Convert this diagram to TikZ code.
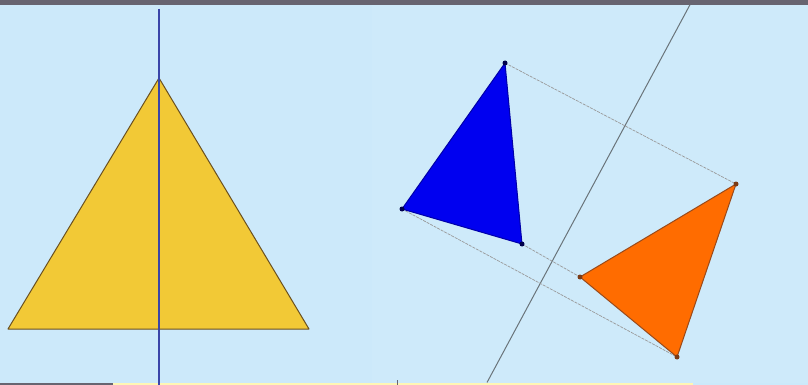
\documentclass[tikz,border=0pt]{standalone}
\begin{document}
\begin{tikzpicture}[x=1pt,y=-1pt,
  tri/.style={line width=1pt, line join=round},
  proj/.style={draw=gray!80, line width=0.7pt, dash pattern=on 3pt off 1pt},
  vdot/.style={circle, inner sep=0pt, minimum size=5pt}]
\definecolor{bg}{HTML}{CCE9FA}
\definecolor{band}{HTML}{676470}
\definecolor{yel}{HTML}{F2C936}
\definecolor{yelline}{HTML}{6A5020}
\definecolor{axisblue}{HTML}{3A45A8}
\definecolor{bluetri}{HTML}{0000F0}
\definecolor{orangetri}{HTML}{FF6C00}
\definecolor{orangeline}{HTML}{9A4A1A}
\definecolor{mirror}{HTML}{6A747A}
\definecolor{strip}{HTML}{FFF6B4}
\useasboundingbox (0,0) rectangle (808,385);
\fill[bg] (0,0) rectangle (808,385);
\fill[bg!96!white] (372,5) rectangle (808,383);
\fill[band] (0,0) rectangle (808,4.7);
\fill[band] (0,382.5) rectangle (113,385);
\fill[strip] (113,382.5) rectangle (693,385);
\draw[band, line width=0.6pt] (397,380) -- (397,385);
% left: yellow triangle with blue axis
\coordinate (ya) at (159,78);
\coordinate (yl) at (8,329);
\coordinate (yr) at (309,329);
\filldraw[tri, fill=yel, draw=yelline] (ya) -- (yl) -- (yr) -- cycle;
\coordinate (axt) at (159,9);
\coordinate (axb) at (159,385);
\draw[axisblue, line width=1.5pt] (axt) -- (axb);
% right: mirror line
\coordinate (mt) at (690,4.7);
\coordinate (mb) at (487,382.5);
\draw[mirror, line width=1pt] (mt) -- (mb);
% triangles
\coordinate (b1) at (505,63);
\coordinate (b2) at (402,209);
\coordinate (b3) at (522,244);
\coordinate (o1) at (736,184);
\coordinate (o2) at (677,357);
\coordinate (o3) at (580,277);
\draw[proj] (b1) -- (o1);
\draw[proj] (b2) -- (o2);
\draw[proj] (b3) -- (o3);
\filldraw[tri, fill=bluetri, draw=bluetri!70!black] (b1) -- (b2) -- (b3) -- cycle;
\filldraw[tri, fill=orangetri, draw=orangeline] (o1) -- (o2) -- (o3) -- cycle;
\foreach \p in {b1,b2,b3} \node[vdot, fill=black!70!blue] at (\p) {};
\foreach \p in {o1,o2,o3} \node[vdot, fill=orangeline!80!black] at (\p) {};
\end{tikzpicture}
\end{document}
